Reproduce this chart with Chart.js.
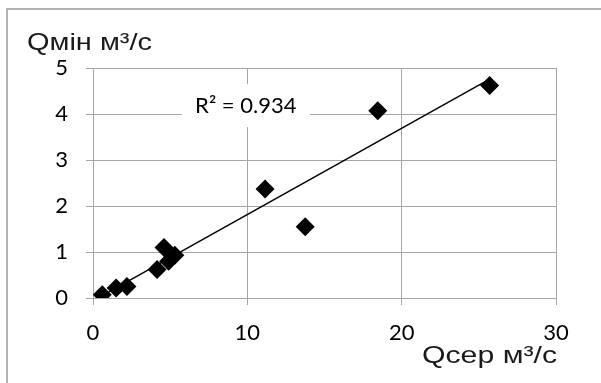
<!DOCTYPE html>
<html>
<head>
<meta charset="utf-8">
<script src="https://cdn.jsdelivr.net/npm/chart.js@4/dist/chart.umd.min.js"></script>
<style>
  html, body { margin: 0; padding: 0; background: #fff; }
  #wrap { width: 601px; height: 383px; }
</style>
</head>
<body>
<div id="wrap"><canvas id="chart" width="601" height="383"></canvas></div>
<script>
// values
const qSer = [0.6, 1.5, 2.2, 4.15, 4.6, 4.9, 5.3, 11.15, 13.75, 18.45, 25.7];
const qMin = [0.07, 0.22, 0.25, 0.62, 1.1, 0.8, 0.93, 2.37, 1.55, 4.07, 4.62];
// trendline end points
const trendX = [0.6, 25.7];
const trendY = [0.05, 4.76];
const xTicks = [0, 10, 20, 30];
const yTicks = [0, 1, 2, 3, 4, 5];
const r2Label = 'R² = 0.934';
const yTitle = 'Qмін м³/с';
const xTitle = 'Qсер м³/с';

const gridColor = '#a6a6a6';
const tickFont = { family: 'Lato', size: 22 };

// the titles in the original are a bit wider than Arial, stretch them to fit
function stretchedText(ctx, text, x, baseline, width) {
    const w = ctx.measureText(text).width;
    ctx.save();
    ctx.translate(x, baseline);
    ctx.scale(width / w, 1);
    ctx.fillText(text, 0, 0);
    ctx.restore();
}

// frame, axis titles and the R² label
const extras = {
    id: 'extras',
    afterDraw(chart) {
        const ctx = chart.ctx;
        const xs = chart.scales.x, ys = chart.scales.y;
        ctx.save();
        ctx.strokeStyle = '#b3b3b3';
        ctx.lineWidth = 2;
        ctx.beginPath();
        ctx.moveTo(7, 383);
        ctx.lineTo(7, 9);
        ctx.lineTo(601, 9);
        ctx.stroke();

        ctx.fillStyle = '#1a1a1a';
        ctx.font = '24px "Liberation Sans", Arial, sans-serif';
        ctx.textBaseline = 'alphabetic';
        ctx.textAlign = 'left';
        stretchedText(ctx, yTitle, 27, 50, 125);
        stretchedText(ctx, xTitle, 422, 363, 135);

        // R² label on a white box
        const cx = xs.getPixelForValue(9.9);
        const cy = ys.getPixelForValue(4.17);
        ctx.fillStyle = '#fff';
        ctx.fillRect(cx - 64, cy - 22, 128, 43);
        ctx.fillStyle = '#000';
        ctx.font = '22px Lato';
        ctx.textAlign = 'center';
        ctx.textBaseline = 'middle';
        ctx.fillText(r2Label, cx, cy);
        ctx.restore();
    }
};

new Chart(document.getElementById('chart'), {
    type: 'scatter',
    data: {
        datasets: [
            {
                label: 'trend',
                type: 'line',
                data: trendX.map((x, i) => ({ x: x, y: trendY[i] })),
                borderColor: '#000',
                borderWidth: 1.5,
                pointRadius: 0,
                fill: false
            },
            {
                label: 'Qмін',
                data: qSer.map((x, i) => ({ x: x, y: qMin[i] })),
                pointStyle: 'rectRot',
                pointRadius: 9.5,
                pointHoverRadius: 9.5,
                backgroundColor: '#000',
                borderColor: '#000',
                borderWidth: 0
            }
        ]
    },
    options: {
        responsive: false,
        animation: false,
        layout: { padding: { left: 0, top: 68, right: 45, bottom: 0 } },
        plugins: {
            legend: { display: false },
            tooltip: { enabled: false }
        },
        scales: {
            x: {
                type: 'linear',
                min: 0,
                max: 30,
                afterFit: s => { s.height = 85; },
                afterBuildTicks: s => { s.ticks = xTicks.map(v => ({ value: v })); },
                grid: { color: gridColor, lineWidth: 1, tickLength: 7 },
                border: { color: gridColor },
                ticks: { font: tickFont, color: '#000', padding: 15, maxRotation: 0 }
            },
            y: {
                type: 'linear',
                min: 0,
                max: 5,
                afterFit: s => { s.width = 93; },
                afterBuildTicks: s => { s.ticks = yTicks.map(v => ({ value: v })); },
                grid: { color: gridColor, lineWidth: 1, tickLength: 7 },
                border: { color: gridColor },
                ticks: { font: tickFont, color: '#000', padding: 18 }
            }
        }
    },
    plugins: [extras]
});
</script>
</body>
</html>
